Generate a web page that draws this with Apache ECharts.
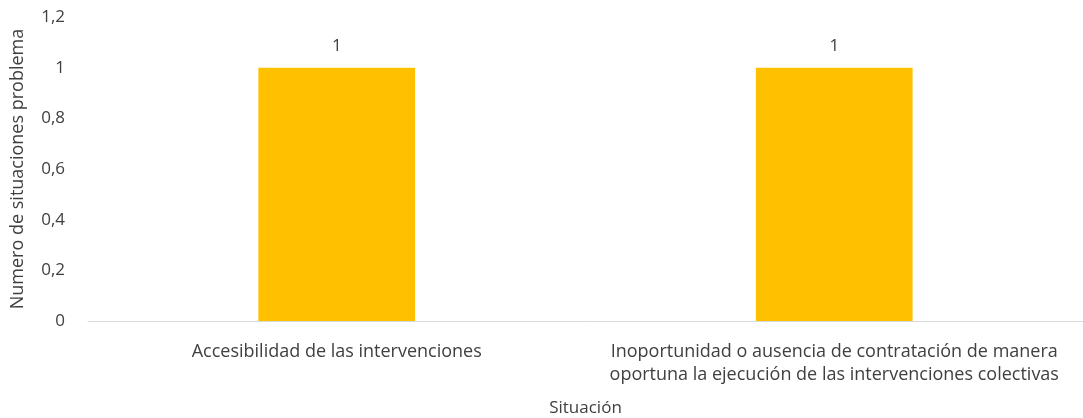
<!DOCTYPE html>
<html>
<head>
<meta charset="utf-8">
<script src="https://cdn.jsdelivr.net/npm/echarts@6/dist/echarts.min.js"></script>
<style>
  html, body { margin: 0; padding: 0; background: #fff; }
  #main { width: 1083px; height: 418px; }
</style>
</head>
<body>
<div id="main"></div>
<script>
var categories = [
  'Accesibilidad de las intervenciones',
  'Inoportunidad o ausencia de contratación de manera\noportuna la ejecución de las intervenciones colectivas'
];
var values = [1, 1];

var chart = echarts.init(document.getElementById('main'));
var font = '"Open Sans", Lato, sans-serif';

chart.setOption({
  animation: false,
  textStyle: { fontFamily: font },
  grid: { left: 88, right: 0, top: 17, bottom: 97, outerBoundsMode: 'none', containLabel: false },
  xAxis: {
    type: 'category',
    data: categories,
    name: 'Situación',
    nameLocation: 'middle',
    nameGap: 79,
    nameMoveOverlap: false,
    nameTextStyle: { color: '#404040', fontSize: 17, fontFamily: font },
    axisLine: { lineStyle: { color: '#d9d9d9', width: 1 } },
    axisTick: { show: false },
    axisLabel: { color: '#404040', fontSize: 18, lineHeight: 23, margin: 19, fontFamily: font, interval: 0 }
  },
  yAxis: {
    type: 'value',
    min: 0,
    max: 1.2,
    interval: 0.2,
    name: 'Numero de situaciones problema',
    nameLocation: 'middle',
    nameGap: 61,
    nameMoveOverlap: false,
    nameTextStyle: { color: '#404040', fontSize: 18, fontFamily: font },
    axisLine: { show: false },
    axisTick: { show: false },
    splitLine: { show: false },
    axisLabel: {
      color: '#404040', fontSize: 17, margin: 23, fontFamily: font,
      formatter: function (v) { return String(Math.round(v * 10) / 10).replace('.', ','); }
    }
  },
  series: [{
    type: 'bar',
    data: values,
    barWidth: '31.5%',
    itemStyle: { color: '#ffc000' },
    label: { show: true, position: 'top', distance: 13, color: '#404040', fontSize: 17, fontFamily: font }
  }]
});
</script>
</body>
</html>
